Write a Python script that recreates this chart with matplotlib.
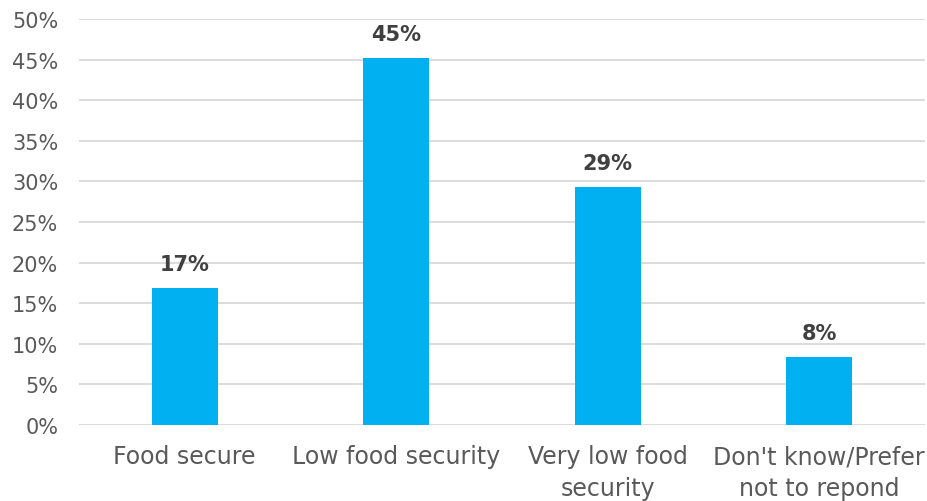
import matplotlib
matplotlib.use("Agg")
import matplotlib.pyplot as plt
from matplotlib.ticker import FuncFormatter

categories = ["Food secure", "Low food security", "Very low food\nsecurity", "Don't know/Prefer\nnot to repond"]
values = [16.9, 45.2, 29.3, 8.4]
labels = ["17%", "45%", "29%", "8%"]
yticks = [0, 5, 10, 15, 20, 25, 30, 35, 40, 45, 50]

plt.rcParams['font.family'] = ['DejaVu Sans']

fig = plt.figure(figsize=(9.28, 5.02), dpi=100)
ax = fig.add_axes([79/928, 1-426/502, 846/928, 406/502])

x = range(len(categories))
ax.bar(x, values, width=0.31, color="#00B0F0", zorder=3)
for xi, v, lab in zip(x, values, labels):
    ax.annotate(lab, (xi, v), xytext=(0, 17), textcoords="offset points",
                ha="center", va="center", fontsize=15, fontweight="bold", color="#404040")

ax.set_xlim(-0.5, len(categories) - 0.5)
ax.set_ylim(0, 50)
ax.set_yticks(yticks)
ax.yaxis.set_major_formatter(FuncFormatter(lambda v, p: f"{v:.0f}%"))
ax.set_xticks(list(x))
ax.set_xticklabels(categories)
ax.grid(axis="y", color="#D9D9D9", linewidth=1.3, zorder=0)
ax.tick_params(axis="y", length=0, pad=15, labelsize=15, labelcolor="#595959")
ax.tick_params(axis="x", length=0, pad=14, labelsize=17, labelcolor="#595959")
for s in ax.spines.values():
    s.set_visible(False)
for t in ax.get_xticklabels():
    t.set_linespacing(1.4)

fig.savefig("out.png", dpi=100)
